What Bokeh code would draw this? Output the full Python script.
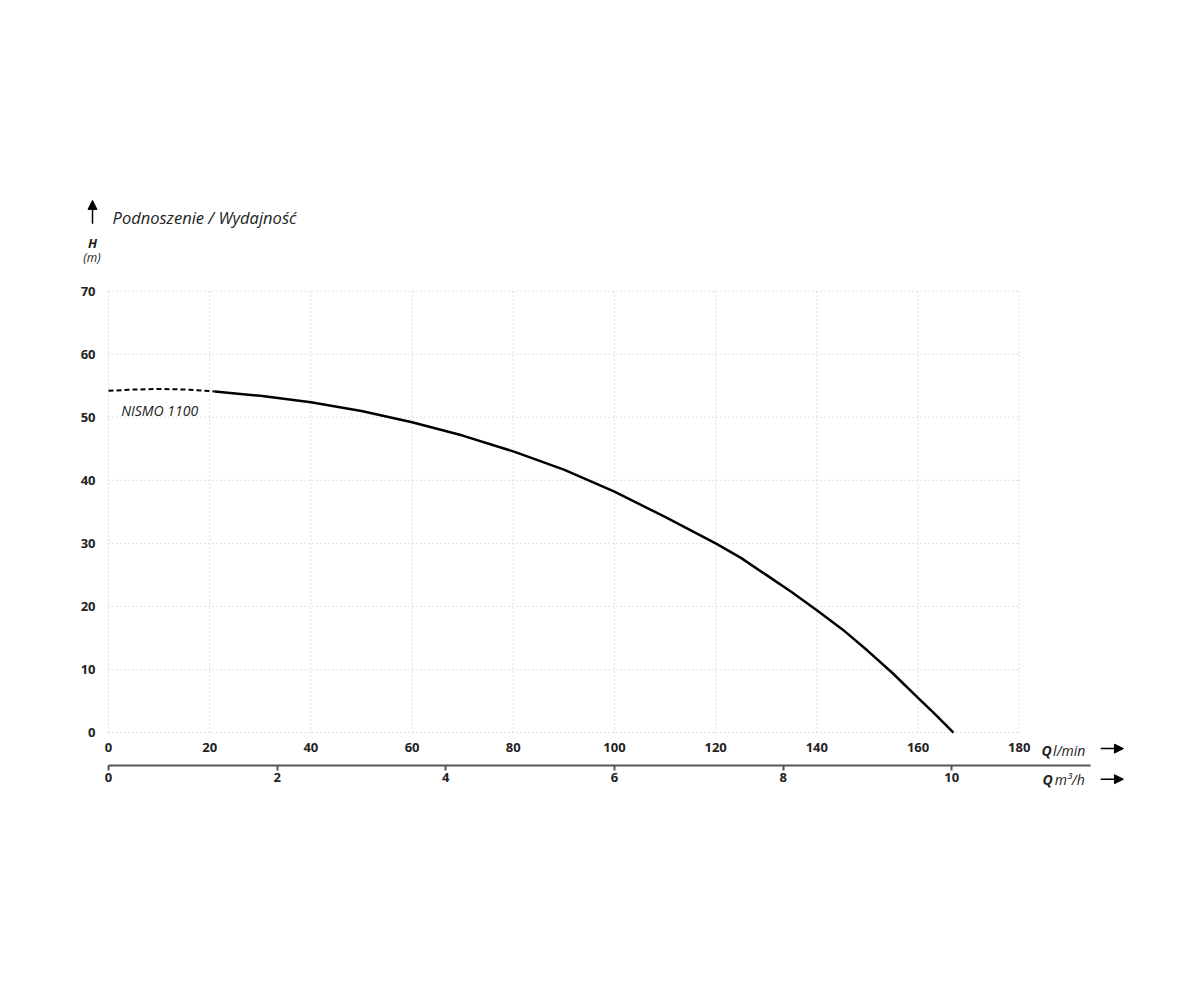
import numpy as np
from bokeh.plotting import figure
from bokeh.models import Range1d, LinearAxis, FixedTicker, Label, Arrow, NormalHead
from bokeh.embed import file_html
from bokeh.resources import INLINE

# pump curve NISMO 1100
flow_dashed = [0, 5, 10, 15, 21]
head_dashed = [54.2, 54.4, 54.5, 54.4, 54.1]
flow = [21, 30, 40, 50, 60, 70, 80, 90, 100, 110, 120, 125, 130, 135, 140, 145, 150, 155, 160, 163, 167]
head = [54.1, 53.4, 52.4, 51.0, 49.2, 47.1, 44.6, 41.7, 38.2, 34.2, 30.0, 27.7, 25.0, 22.3, 19.4, 16.4,
        13.0, 9.4, 5.5, 3.2, 0]

q_ticks = [0, 20, 40, 60, 80, 100, 120, 140, 160, 180]
h_ticks = [0, 10, 20, 30, 40, 50, 60, 70]
m3_ticks = [0, 2, 4, 6, 8, 10]

FONT = "Open Sans"
TXT = "#222222"

# the frame covers the whole drawing, so that the side texts are not clipped
p = figure(width=1180, height=900, x_range=Range1d(-7.51, 203.97), y_range=Range1d(-10.78, 85.97),
           x_axis_type=None, y_axis_type=None, output_backend="svg", toolbar_location=None,
           min_border_left=70, min_border_top=190, min_border_right=40, min_border_bottom=100)
p.outline_line_color = None
p.background_fill_color = "white"

# dotted grid
p.segment(x0=q_ticks, y0=h_ticks[0], x1=q_ticks, y1=h_ticks[-1],
          line_color="#c0c0c0", line_width=1, line_dash="1 3")
p.segment(x0=q_ticks[0], y0=h_ticks, x1=q_ticks[-1], y1=h_ticks,
          line_color="#c0c0c0", line_width=1, line_dash="1 3")

def style_labels(ax):
    ax.minor_tick_line_color = None
    ax.major_label_text_font = FONT
    ax.major_label_text_font_style = "bold"
    ax.major_label_text_font_size = "13px"
    ax.major_label_text_color = TXT

# axes
yax = LinearAxis(ticker=FixedTicker(ticks=h_ticks), fixed_location=0)
yax.axis_line_color = None
yax.major_tick_line_color = None
yax.major_label_standoff = 7
style_labels(yax)
p.add_layout(yax, "left")

qax = LinearAxis(ticker=FixedTicker(ticks=q_ticks), bounds=(0, 180), fixed_location=0)
qax.axis_line_color = None
qax.major_tick_line_color = None
qax.major_label_standoff = 4
style_labels(qax)
p.add_layout(qax, "below")

p.extra_x_ranges = {"m3": Range1d(-7.51 * 60 / 1000, 203.97 * 60 / 1000)}
m3ax = LinearAxis(x_range_name="m3", ticker=FixedTicker(ticks=m3_ticks), bounds=(0, 11.65),
                  fixed_location=-5.15)
m3ax.axis_line_color = "#555555"
m3ax.axis_line_width = 2
m3ax.major_tick_line_color = "#555555"
m3ax.major_tick_line_width = 2
m3ax.major_tick_out = 5
m3ax.major_tick_in = 0
m3ax.major_label_standoff = 3
style_labels(m3ax)
p.add_layout(m3ax, "below")

# curve
p.line(flow_dashed, head_dashed, line_color="black", line_width=2, line_dash="5 3")
p.line(flow, head, line_color="black", line_width=2.5, line_join="round")

def label(x, y, text, size, style="italic", align="left"):
    p.add_layout(Label(x=x, y=y, text=text, text_font=FONT, text_font_size=size,
                       text_font_style=style, text_color=TXT, text_align=align,
                       text_baseline="middle"))

label(2.5, 51.1, "NISMO 1100", "14px")
label(0.8, 81.7, "Podnoszenie / Wydajność", "16.5px")
label(-3.16, 77.6, "H", "13px", "bold italic", "center")
label(-3.26, 75.4, "(m)", "12px", "italic", "center")
label(184.4, -2.8, "Q", "14px", "bold italic")
label(186.7, -2.8, "l/min", "14px")
label(184.6, -7.5, "Q", "14px", "bold italic")
label(187.0, -7.5, "m³/h", "14px")

def arrow(x0, y0, x1, y1):
    p.add_layout(Arrow(end=NormalHead(size=9, fill_color="black", line_color="black"),
                       x_start=x0, y_start=y0, x_end=x1, y_end=y1,
                       line_color="black", line_width=1.5))

arrow(196.1, -2.55, 200.6, -2.55)
arrow(196.1, -7.4, 200.6, -7.4)
arrow(-3.16, 80.7, -3.16, 84.4)

open("out.html", "w").write(file_html(p, INLINE))
